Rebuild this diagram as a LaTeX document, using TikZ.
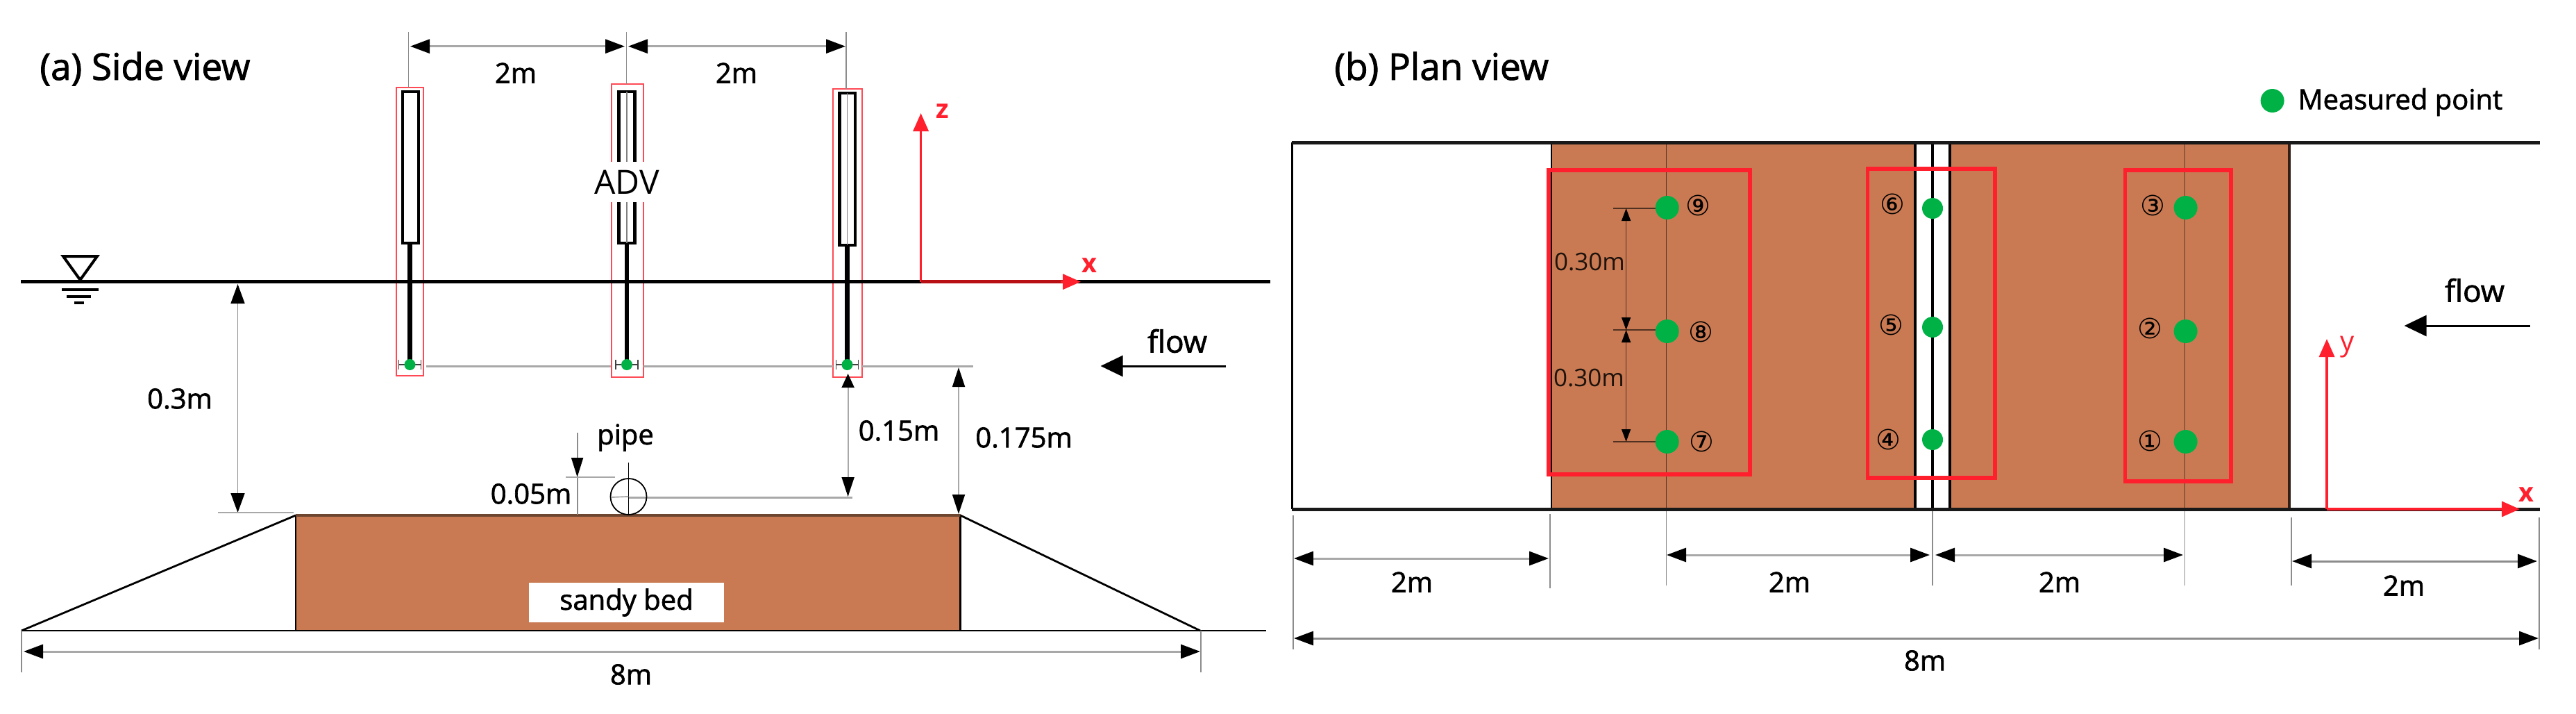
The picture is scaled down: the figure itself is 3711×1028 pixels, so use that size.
\documentclass[tikz,border=0pt]{standalone}
\usepackage{fontspec}
\usetikzlibrary{arrows.meta}
\setmainfont{Open Sans}
\newfontfamily\fbf{Open Sans}[FakeBold=1.7]
\newfontfamily\circfont{DejaVu Sans}
\definecolor{bedc}{HTML}{C97A53}
\definecolor{bedline}{HTML}{6E4630}
\definecolor{redc}{HTML}{FF1F2D}
\definecolor{redsoft}{HTML}{FF4A55}
\definecolor{darkred}{HTML}{B80F14}
\definecolor{dotc}{HTML}{00B245}
\definecolor{dimg}{HTML}{A8A8A8}
\definecolor{extg}{HTML}{8C8C8C}
\tikzset{
  bigtip/.tip={Triangle[length=14pt,width=10pt,color=black]},
  redtip/.tip={Triangle[length=13pt,width=11pt,color=redc]},
  dimh/.style={draw=dimg,line width=1.5pt,bigtip-bigtip},
  dimv/.style={draw=extg,line width=.9pt},
  ext/.style={draw=extg,line width=.75pt},
  wline/.style={draw=black,line width=2.5pt},
  bline/.style={draw=black,line width=1.1pt},
  redbox/.style={draw=redsoft,line width=1.4pt},
  planbox/.style={draw=redc,line width=2.8pt},
  tube/.style={draw=black,line width=2.2pt,fill=white},
  rod/.style={draw=black,line width=3.4pt},
  axis/.style={draw=redc,line width=1.7pt,-redtip},
  flowarrow/.style={draw=black,line width=1.5pt,-{Triangle[length=16pt,width=15pt,color=black]}},
  dot/.style={circle,fill=dotc,inner sep=0pt},
  lbl/.style={inner sep=0pt,font=\fontsize{20}{24}\selectfont\fbf},
  ttl/.style={inner sep=0pt,font=\fontsize{26.5}{30}\selectfont\fbf},
  axl/.style={inner sep=0pt,text=redc,font=\fontsize{19}{22}\selectfont\bfseries},
  num/.style={inner sep=0pt,font=\fontsize{20}{24}\selectfont\circfont},
  smalllbl/.style={inner sep=0pt,font=\fontsize{17.5}{22}\selectfont}
}
\begin{document}
\begin{tikzpicture}[x=0.5pt,y=-0.5pt]
\useasboundingbox (0,0) rectangle (3711,1028);
% ---------- side view: coordinates
\coordinate (sbTL) at (426,742); \coordinate (sbBR) at (1383.5,908);
\coordinate (sbTR) at (1383.5,742); \coordinate (sbBL) at (426,908);
\coordinate (gL) at (31,908); \coordinate (gR) at (1824,908); \coordinate (toeR) at (1729,908);
\coordinate (wL) at (30,405.7); \coordinate (wR) at (1829.5,405.7);
% bed
\fill[bedc] (sbTL) rectangle (sbBR);
\draw[bline] (sbBL) -- (sbTL) (sbTR) -- (sbBR);
\draw[draw=bedline,line width=2.2pt] (sbTL) -- (sbTR);
\draw[draw=black,line width=1.4pt] (gL) -- (gR);
\draw[draw=black,line width=1.4pt] (gL) -- (sbTL) (sbTR) -- (toeR);
\node[fill=white,minimum width=140.5pt,minimum height=28.5pt,inner sep=0pt,font=\fontsize{20}{24}\selectfont\fbf] (sandy) at (902.5,867.5) {sandy bed};
% probes: red frames
\draw[redbox] (571,126) rectangle (610,541);
\draw[redbox] (881,121) rectangle (927,543);
\draw[redbox] (1200,128) rectangle (1242,543);
\draw[tube] (580,132) rectangle (603,350);
\draw[tube] (891.5,132) rectangle (914.5,350);
\draw[tube] (1209.5,134) rectangle (1232,353);
\draw[draw=gray,line width=.6pt] (903,132) -- (903,350) (1220.5,134) -- (1220.5,353);
\draw[rod] (590.5,350) -- (590.5,524);
\draw[rod] (903,350) -- (903,526);
\draw[rod] (1220.5,353) -- (1220.5,525);
% probe tips
\foreach \cx/\cn in {590.5/a,903/b,1220.5/c}{
  \draw[draw=black!75,line width=.7pt] (\cx-16,525) -- (\cx+16,525) (\cx-16,518) -- (\cx-16,532) (\cx+16,518) -- (\cx+16,532);
  \node[dot,minimum size=8pt] (tip\cn) at (\cx,525) {};
}
% water
\draw[wline] (wL) -- (wR);
\draw[draw=black,line width=2pt,line join=miter] (91,369) -- (140,369) -- (115.5,403) -- cycle;
\draw[draw=black,line width=2.2pt] (89,417) -- (142,417);
\draw[draw=black,line width=2pt] (96,427) -- (131,427);
\draw[draw=black,line width=2pt] (107,436) -- (121,436);
% ADV
\node[fill=white,inner sep=0pt,minimum width=48pt,minimum height=29pt,font=\fontsize{24}{28}\selectfont] (adv) at (903,262) {ADV};
% top dims
\coordinate (e1a) at (588.6,46); \coordinate (e1b) at (588.6,126);
\coordinate (e2a) at (902.4,46); \coordinate (e2b) at (902.4,121);
\coordinate (e3a) at (1219,46); \coordinate (e3b) at (1219,128);
\draw[ext] (e1a) -- (e1b) (e2a) -- (e2b) (e3a) -- (e3b);
\coordinate (d1a) at (591,66.7); \coordinate (d1b) at (900,66.7);
\coordinate (d2a) at (905,66.7); \coordinate (d2b) at (1218,66.7);
\draw[dimh] (d1a) -- (d1b);
\draw[dimh] (d2a) -- (d2b);
\node[lbl] (t2ma) at (743,105) {2m};
\node[lbl] (t2mb) at (1061,105) {2m};
\node[ttl,anchor=base west] (tita) at (57,115) {(a) Side view};
% side axes
\coordinate (o1) at (1326.6,405.7);
\draw[axis] (o1) -- (1326.6,163);
\draw[draw=darkred,line width=2.5pt] (o1) -- (1535,405.7);
\draw[axis] (1528,405.7) -- (1557,405.7);
\node[axl] (zl) at (1358,160) {z};
\node[axl] (xl) at (1569,382) {x};
% 0.3m
\coordinate (p3a) at (342.5,409); \coordinate (p3b) at (342.5,738);
\draw[dimv,bigtip-bigtip] (p3a) -- (p3b);
\draw[draw=dimg,line width=1.2pt] (314,738) -- (423,738);
\node[lbl] (t03) at (259,574) {0.3m};
% level line
\draw[draw=dimg,line width=1.5pt] (614,527) -- (880,527) (927,527) -- (1200,527) (1242,527) -- (1402,527);
\draw[draw=dimg,line width=1.5pt] (905.5,716) -- (1228,716);
% pipe
\node[circle,draw=black,line width=.9pt,minimum size=26pt,inner sep=0pt] (pipec) at (905.5,715) {};
\draw[draw=black,line width=.7pt] (905.5,666) -- (pipec.center) -- (905.5,741);
\draw[draw=extg,line width=.7pt] (880,716) -- (pipec.center);
\node[lbl] (tpipe) at (901,630) {pipe};
% 0.05m
\coordinate (p5a) at (831.6,623); \coordinate (p5b) at (831.6,687); \coordinate (p5c) at (831.6,741);
\draw[dimv,-{Triangle[length=14pt,width=8.5pt,color=black]}] (p5a) -- (p5b);
\draw[dimv] (p5b) -- (p5c);
\draw[draw=dimg,line width=1.2pt] (815,687) -- (886,687);
\node[lbl] (t05) at (765,711) {0.05m};
% 0.15m, 0.175m
\coordinate (p15a) at (1221.6,538); \coordinate (p15b) at (1221.6,715);
\draw[draw=dimg,line width=.9pt,{Triangle[length=10pt,width=9pt,color=black]}-{Triangle[length=14pt,width=9pt,color=black]}] (p15a) -- (p15b);
\node[lbl] (t15) at (1295,620) {0.15m};
\coordinate (p17a) at (1381,529); \coordinate (p17b) at (1381,740);
\draw[draw=dimg,line width=.9pt,{Triangle[length=14pt,width=9pt,color=black]}-{Triangle[length=14pt,width=9pt,color=black]}] (p17a) -- (p17b);
\node[lbl] (t175) at (1475,630) {0.175m};
% flow side
\coordinate (f1a) at (1766,527); \coordinate (f1b) at (1585.5,527);
\draw[flowarrow] (f1a) -- (f1b);
\node[lbl,font=\fontsize{22}{26}\selectfont\fbf] (fl1) at (1696,491) {flow};
% 8m side
\coordinate (ex8a) at (31,908); \coordinate (ex8b) at (31,968);
\coordinate (ex8c) at (1730,908); \coordinate (ex8d) at (1730,968);
\draw[ext] (ex8a) -- (ex8b) (ex8c) -- (ex8d);
\coordinate (d8a) at (34,938); \coordinate (d8b) at (1729,938);
\draw[dimh] (d8a) -- (d8b);
\node[lbl] (t8a) at (909,971) {8m};
% ---------- plan view
\coordinate (PTL) at (1861,205); \coordinate (PTR) at (3658.7,205);
\coordinate (PBL) at (1861,733); \coordinate (PBR) at (3658.7,733);
\fill[bedc] (2235,205) rectangle (2759,733);
\fill[bedc] (2809,205) rectangle (3298,733);
\draw[draw=black,line width=1.5pt] (PTL) -- (PBL);
\draw[draw=black,line width=1pt] (2235,205) -- (2235,733);
\draw[draw=black,line width=1.6pt] (2759,205) -- (2759,733) (2784,205) -- (2784,733) (2809,205) -- (2809,733);
\draw[draw=black!75!bedc,line width=1.6pt] (3298,205) -- (3298,733);
\draw[draw=black!55!bedc,line width=.8pt] (2400.6,205) -- (2400.6,733) (3147.5,205) -- (3147.5,733);
\draw[ext] (2400.6,733) -- (2400.6,843) (3147.5,733) -- (3147.5,843) (2784,733) -- (2784,843);
\draw[wline,draw=black!90] (PTL) -- (PTR);
\draw[wline,draw=black!90] (PBL) -- (PBR);
% red boxes
\draw[planbox] (2231,245) rectangle (2521,683);
\draw[planbox] (2690.5,243) rectangle (2874,688);
\draw[planbox] (3061.5,245) rectangle (3214,693);
% 0.30 m dims
\draw[draw=black!60!bedc,line width=.9pt] (2324,300) -- (2401,300) (2324,475) -- (2401,475) (2324,636) -- (2401,636);
\coordinate (m1a) at (2342.6,300); \coordinate (m1b) at (2342.6,475); \coordinate (m1c) at (2342.6,636);
\draw[draw=black!60!bedc,line width=.7pt,{Triangle[length=9pt,width=6.5pt,color=black]}-{Triangle[length=9pt,width=6.5pt,color=black]}] (m1a) -- (m1b);
\draw[draw=black!60!bedc,line width=.7pt,{Triangle[length=9pt,width=6.5pt,color=black]}-{Triangle[length=9pt,width=6.5pt,color=black]}] (m1b) -- (m1c);
\node[smalllbl,text=black!85!bedc] (t30a) at (2290,377) {0.30m};
\node[smalllbl,text=black!85!bedc] (t30b) at (2289,544) {0.30m};
% dots
\foreach \n/\cx/\cy in {d9/2401.7/299,d8/2401.7/477,d7/2401.7/636,d3/3148.6/299,d2/3148.6/477,d1/3148.6/636}
  \node[dot,minimum size=17pt] (\n) at (\cx,\cy) {};
\foreach \n/\cx/\cy in {d6/2784/300,d5/2784/471,d4/2784/633}
  \node[dot,minimum size=15pt] (\n) at (\cx,\cy) {};
\node[num] (n9) at (2446.5,296) {⑨};
\node[num] (n8) at (2450,478) {⑧};
\node[num] (n7) at (2451,636) {⑦};
\node[num] (n6) at (2726.6,294) {⑥};
\node[num] (n5) at (2724,468) {⑤};
\node[num] (n4) at (2720,633) {④};
\node[num] (n3) at (3101,296) {③};
\node[num] (n2) at (3097.5,473) {②};
\node[num] (n1) at (3097.5,635) {①};
\node[ttl,anchor=base west] (titb) at (1922,115) {(b) Plan view};
\node[dot,minimum size=17pt] (legdot) at (3273.6,145) {};
\node[inner sep=0pt,anchor=west,font=\fontsize{20}{22}\selectfont\fbf] (legt) at (3310,147) {Measured point};
% flow plan
\coordinate (f2a) at (3645,469); \coordinate (f2b) at (3463.6,469);
\draw[flowarrow] (f2a) -- (f2b);
\node[lbl,font=\fontsize{22}{26}\selectfont\fbf] (fl2) at (3565,418) {flow};
% plan axes
\coordinate (o2) at (3352,733);
\draw[axis] (o2) -- (3352,488);
\draw[axis] (o2) -- (3630,733);
\node[axl,font=\fontsize{20}{22}\selectfont\mdseries] (yl) at (3382,500) {y};
\node[axl] (xl2) at (3639,712) {x};
% plan dims
\draw[ext] (1863,742) -- (1863,935) (2233,740) -- (2233,847) (3301,745) -- (3301,843) (3658,745) -- (3658,935);
\coordinate (a1) at (1864,804); \coordinate (a2) at (2231,804);
\coordinate (b1) at (2401,799); \coordinate (b2) at (2780,799);
\coordinate (c1) at (2788,799); \coordinate (c2) at (3145,799);
\coordinate (g1) at (3302,808); \coordinate (g2) at (3655,808);
\coordinate (h1) at (1864,919); \coordinate (h2) at (3657,919);
\draw[dimh] (a1) -- (a2);
\draw[dimh] (b1) -- (b2);
\draw[dimh] (c1) -- (c2);
\draw[dimh,draw=extg] (g1) -- (g2);
\draw[dimh,draw=extg] (h1) -- (h2);
\node[lbl] (l1) at (2034,838) {2m};
\node[lbl] (l2) at (2578,838) {2m};
\node[lbl] (l3) at (2967,838) {2m};
\node[lbl] (l4) at (3463,843) {2m};
\node[lbl] (l5) at (2773,951) {8m};
\end{tikzpicture}
\end{document}
